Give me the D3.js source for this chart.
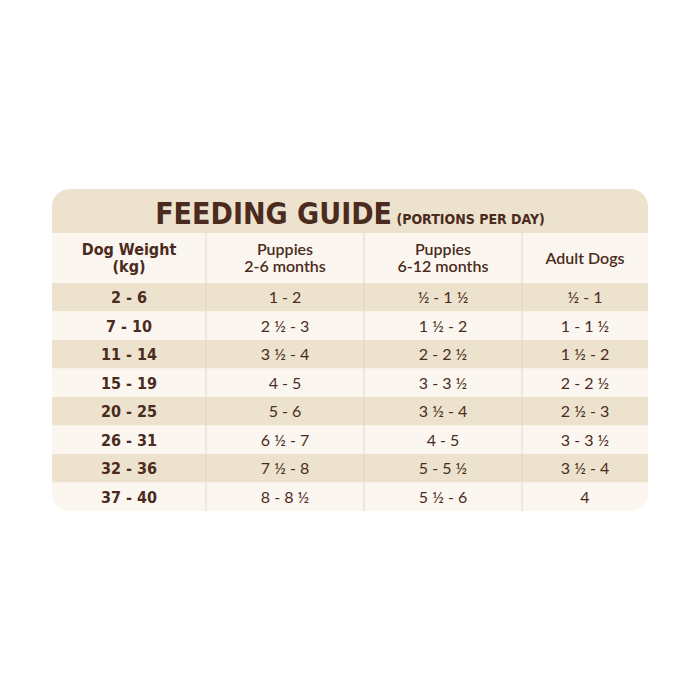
<!DOCTYPE html>
<html>
<head>
<script src="https://cdn.jsdelivr.net/npm/d3@7/dist/d3.min.js"></script>
<style>
  html, body { margin: 0; padding: 0; background: #fff; }
</style>
</head>
<body>
<div id="chart"></div>
<script>
const columns = ["Dog Weight\n(kg)", "Puppies\n2-6 months", "Puppies\n6-12 months", "Adult Dogs"];
const weights = ["2 - 6", "7 - 10", "11 - 14", "15 - 19", "20 - 25", "26 - 31", "32 - 36", "37 - 40"];
const puppies2to6 = ["1 - 2", "2 ½ - 3", "3 ½ - 4", "4 - 5", "5 - 6", "6 ½ - 7", "7 ½ - 8", "8 - 8 ½"];
const puppies6to12 = ["½ - 1 ½", "1 ½ - 2", "2 - 2 ½", "3 - 3 ½", "3 ½ - 4", "4 - 5", "5 - 5 ½", "5 ½ - 6"];
const adults = ["½ - 1", "1 - 1 ½", "1 ½ - 2", "2 - 2 ½", "2 ½ - 3", "3 - 3 ½", "3 ½ - 4", "4"];

const W = 700, H = 700;
const cardLeft = 52, cardRight = 648, cardTop = 189, bandBottom = 233, headBottom = 283, cardBottom = 511;
const dark = "#4b2b20", tan = "#ece2cd", light = "#fbf7f0";

const rows = weights.map((w, i) => [w, puppies2to6[i], puppies6to12[i], adults[i]]);

const svg = d3.select("#chart").append("svg")
    .attr("width", W).attr("height", H)
    .attr("font-family", "'DejaVu Sans Condensed', 'DejaVu Sans', sans-serif");

const colEdges = [cardLeft, 206, 364, 522, cardRight];
const x = i => colEdges[i];
const y = d3.scaleBand().domain(d3.range(rows.length)).range([headBottom, cardBottom]);

svg.append("defs").append("clipPath").attr("id", "card")
    .append("rect").attr("x", cardLeft).attr("y", cardTop)
    .attr("width", cardRight - cardLeft).attr("height", cardBottom - cardTop).attr("rx", 18);

const g = svg.append("g").attr("clip-path", "url(#card)");
g.append("rect").attr("x", cardLeft).attr("y", cardTop).attr("width", cardRight - cardLeft)
    .attr("height", cardBottom - cardTop).attr("fill", light);
g.append("rect").attr("x", cardLeft).attr("y", cardTop).attr("width", cardRight - cardLeft)
    .attr("height", bandBottom - cardTop).attr("fill", tan);
g.selectAll("rect.row").data(rows).join("rect").attr("class", "row")
    .attr("x", cardLeft).attr("width", cardRight - cardLeft)
    .attr("y", (d, i) => y(i)).attr("height", y.bandwidth())
    .attr("fill", (d, i) => i % 2 === 0 ? tan : light);

// column dividers
g.selectAll("line.div").data([1, 2, 3]).join("line")
    .attr("x1", x).attr("x2", x).attr("y1", bandBottom).attr("y2", cardBottom)
    .attr("stroke", "#e3d6c0").attr("stroke-width", 1);

// title
const title = svg.append("text").attr("x", 350).attr("y", 224)
    .attr("text-anchor", "middle").attr("fill", dark);
title.append("tspan").text("FEEDING GUIDE").attr("font-size", 30).attr("font-weight", "bold");
title.append("tspan").text(" (PORTIONS PER DAY)").attr("font-size", 14).attr("font-weight", "bold");

// header
const cx = i => (colEdges[i] + colEdges[i + 1]) / 2;
columns.forEach((c, i) => {
  const lines = c.split("\n");
  const t = svg.append("text").attr("text-anchor", "middle").attr("fill", dark)
      .attr("font-size", 16).attr("font-weight", i === 0 ? "bold" : "600")
      .attr("font-family", i === 0 ? null : "Lato, 'Open Sans', sans-serif");
  const y0 = lines.length === 1 ? 264 : 255;
  lines.forEach((l, k) => t.append("tspan").attr("x", cx(i)).attr("y", y0 + k * 17).text(l));
});

// body cells
rows.forEach((r, ri) => {
  svg.selectAll(null).data(r).join("text")
      .attr("x", (d, i) => cx(i))
      .attr("y", y(ri) + y.bandwidth() / 2 + 6)
      .attr("text-anchor", "middle").attr("fill", dark)
      .attr("font-size", 16)
      .attr("font-weight", (d, i) => i === 0 ? "bold" : "normal")
      .attr("font-family", (d, i) => i === 0 ? null : "Lato, sans-serif")
      .text(d => d);
});
</script>
</body>
</html>
